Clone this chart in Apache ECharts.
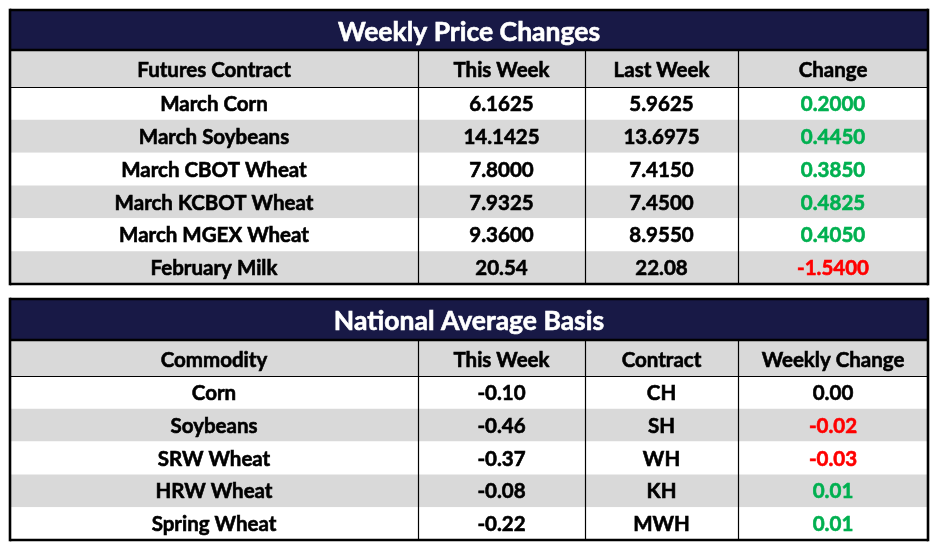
<!DOCTYPE html>
<html>
<head>
<meta charset="utf-8">
<script src="https://cdn.jsdelivr.net/npm/echarts@6/dist/echarts.min.js"></script>
<style>
html,body{margin:0;padding:0;background:#fff;}
#main{width:945px;height:554px;}
</style>
</head>
<body>
<div id="main"></div>
<script>
// ---- Data ----
var title1 = 'Weekly Price Changes';
var headers1 = ['Futures Contract', 'This Week', 'Last Week', 'Change'];
var futuresContracts = ['March Corn', 'March Soybeans', 'March CBOT Wheat', 'March KCBOT Wheat', 'March MGEX Wheat', 'February Milk'];
var futThisWeek = ['6.1625', '14.1425', '7.8000', '7.9325', '9.3600', '20.54'];
var futLastWeek = ['5.9625', '13.6975', '7.4150', '7.4500', '8.9550', '22.08'];
var futChange = ['0.2000', '0.4450', '0.3850', '0.4825', '0.4050', '-1.5400'];

var title2 = 'National Average Basis';
var headers2 = ['Commodity', 'This Week', 'Contract', 'Weekly Change'];
var commodities = ['Corn', 'Soybeans', 'SRW Wheat', 'HRW Wheat', 'Spring Wheat'];
var basisThisWeek = ['-0.10', '-0.46', '-0.37', '-0.08', '-0.22'];
var basisContract = ['CH', 'SH', 'WH', 'KH', 'MWH'];
var basisChange = ['0.00', '-0.02', '-0.03', '0.01', '0.01'];

// ---- Layout / style ----
var colWeights = [408, 167, 153, 190];
var colEdges = [0];
colWeights.forEach(function (w, i) { colEdges.push(colEdges[i] + w); });
var totalW = colEdges[colEdges.length - 1];
var NAVY = '#181946', GRAY = '#d9d9d9', GREEN = '#00b050', RED = '#ff0000';
var FONT = 'Lato';
var THICK = 2.6, THIN = 1.2;

function changeColor(s) {
  var v = parseFloat(s);
  return v > 0 ? GREEN : (v < 0 ? RED : '#000');
}

var grids = [
  { left: 10, width: 918, top: 10, height: 40 },   // t1 title
  { left: 10, width: 918, top: 50, height: 37 },   // t1 header
  { left: 10, width: 918, top: 87, height: 197 },  // t1 body
  { left: 10, width: 918, top: 299, height: 41 },  // t2 title
  { left: 10, width: 918, top: 340, height: 36 },  // t2 header
  { left: 10, width: 918, top: 376, height: 164 }  // t2 body
];
var kinds = ['title', 'header', 'body', 'title', 'header', 'body'];

function rowCats(n) { var a = []; for (var i = 0; i < n; i++) a.push('r' + i); return a; }

// cells per grid: [col, row, text, color, bg, span]
function buildBody(cols) {
  var cells = [];
  var n = cols[0].length;
  for (var r = 0; r < n; r++) {
    var bg = r % 2 === 0 ? '#ffffff' : GRAY;
    for (var c = 0; c < cols.length; c++) {
      var color = c === cols.length - 1 ? changeColor(cols[c][r]) : '#000';
      cells.push([c, r, cols[c][r], color, bg, 1]);
    }
  }
  return cells;
}
function buildHeader(h) {
  return h.map(function (t, c) { return [c, 0, t, '#000', GRAY, 1]; });
}
function buildTitle(t) { return [[0, 0, t, '#ffffff', NAVY, 4]]; }

var gridCells = [
  buildTitle(title1),
  buildHeader(headers1),
  buildBody([futuresContracts, futThisWeek, futLastWeek, futChange]),
  buildTitle(title2),
  buildHeader(headers2),
  buildBody([commodities, basisThisWeek, basisContract, basisChange])
];

var xAxes = [], yAxes = [], series = [];
grids.forEach(function (g, gi) {
  var nRows = kinds[gi] === 'body' ? gridCells[gi].length / 4 : 1;
  xAxes.push({ type: 'value', gridIndex: gi, min: 0, max: totalW, show: false });
  yAxes.push({ type: 'category', gridIndex: gi, data: rowCats(nRows), inverse: true, show: false });
  var cells = gridCells[gi];
  var kind = kinds[gi];
  var isTitle = kind === 'title';
  var dy = isTitle ? 2 : (kind === 'header' ? 2 : 1);
  series.push({
    type: 'custom',
    xAxisIndex: gi, yAxisIndex: gi,
    silent: true,
    data: cells.map(function (c) { return [c[0], c[1]]; }),
    renderItem: function (params, api) {
      var cell = cells[params.dataIndex];
      var c0 = cell[0], span = cell[5];
      var p0 = api.coord([colEdges[c0], cell[1]]);
      var p1 = api.coord([colEdges[c0 + span], cell[1]]);
      var h = api.size([0, 1])[1];
      return {
        type: 'group',
        children: [
          { type: 'rect', shape: { x: p0[0], y: p0[1] - h / 2, width: p1[0] - p0[0], height: h },
            style: { fill: cell[4], stroke: null } },
          { type: 'text', x: (p0[0] + p1[0]) / 2, y: p0[1] + dy,
            style: { text: cell[2], fill: cell[3], stroke: cell[3], lineWidth: 0.6,
              font: 'bold ' + (isTitle ? 26.5 : 20.5) + 'px ' + FONT,
              align: 'center', verticalAlign: 'middle' } }
        ]
      };
    },
    z: 2
  });
  // frame / lines
  series.push({
    type: 'custom',
    xAxisIndex: gi, yAxisIndex: gi,
    silent: true,
    data: [[0, 0]],
    renderItem: function (params, api) {
      var cs = params.coordSys;
      var x0 = cs.x, y0 = cs.y, x1 = cs.x + cs.width, y1 = cs.y + cs.height;
      var ch = [];
      function line(ax, ay, bx, by, w) {
        ch.push({ type: 'line', shape: { x1: ax, y1: ay, x2: bx, y2: by },
          style: { stroke: '#000', lineWidth: w } });
      }
      line(x0, y0 - (kind === 'title' ? THICK / 2 : 0), x0, y1 + (kind === 'body' ? THICK / 2 : 0), THICK);
      line(x1, y0 - (kind === 'title' ? THICK / 2 : 0), x1, y1 + (kind === 'body' ? THICK / 2 : 0), THICK);
      if (kind === 'title') {
        line(x0, y0, x1, y0, THICK);
        line(x0, y1, x1, y1, THICK);
      } else {
        for (var k = 1; k < colEdges.length - 1; k++) {
          var px = Math.round(api.coord([colEdges[k], 0])[0]) + 0.5;
          line(px, y0, px, y1, THIN);
        }
        if (kind === 'header') line(x0, Math.round(y1) + 0.5, x1, Math.round(y1) + 0.5, THIN);
        else line(x0, y1, x1, y1, THICK);
      }
      return { type: 'group', children: ch };
    },
    z: 5
  });
});

var chart = echarts.init(document.getElementById('main'), null, { renderer: 'canvas' });
chart.setOption({
  animation: false,
  backgroundColor: '#ffffff',
  grid: grids,
  xAxis: xAxes,
  yAxis: yAxes,
  series: series
});
</script>
</body>
</html>
